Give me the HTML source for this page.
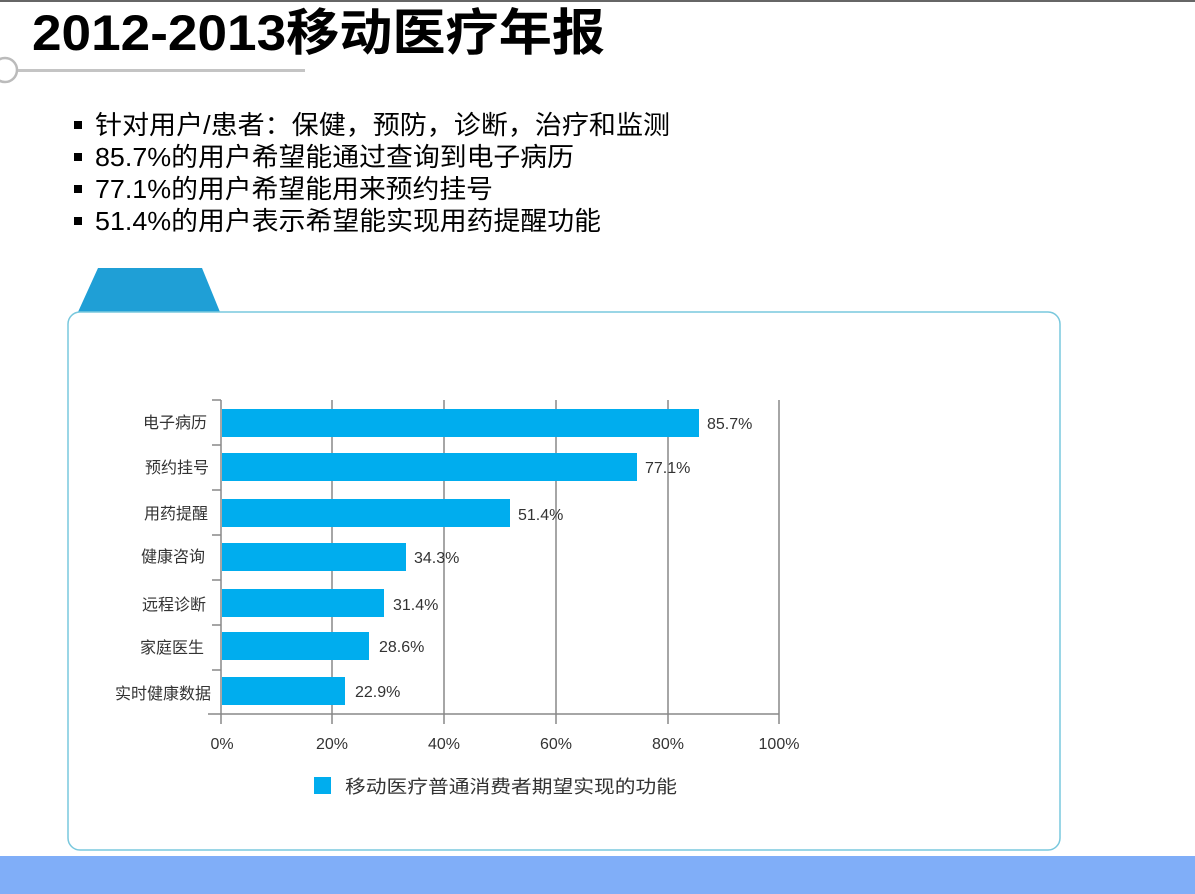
<!DOCTYPE html>
<html><head><meta charset="utf-8"><style>
html,body{margin:0;padding:0;background:#fff;width:1195px;height:894px;overflow:hidden}
svg{display:block}
text{font-family:"Liberation Sans","Noto Sans CJK SC",sans-serif}
</style></head><body>
<svg width="1195" height="894" viewBox="0 0 1195 894" xmlns="http://www.w3.org/2000/svg">
<rect x="0" y="0" width="1195" height="2" fill="#666"/>
<text x="32" y="50" font-size="50" font-weight="bold" fill="#000" textLength="573" lengthAdjust="spacingAndGlyphs">2012-2013移动医疗年报</text>
<circle cx="5" cy="70" r="12" fill="#fff" stroke="#bbb" stroke-width="2.5"/>
<rect x="18" y="69" width="287" height="3" fill="#c4c4c4"/>
<g font-size="26" fill="#000">
<rect x="74" y="121" width="8" height="8" fill="#000"/>
<text x="95" y="134" textLength="575" lengthAdjust="spacingAndGlyphs">针对用户/患者：保健，预防，诊断，治疗和监测</text>
<rect x="74" y="153" width="8" height="8" fill="#000"/>
<text x="95" y="166" textLength="479" lengthAdjust="spacingAndGlyphs">85.7%的用户希望能通过查询到电子病历</text>
<rect x="74" y="185" width="8" height="8" fill="#000"/>
<text x="95" y="198" textLength="398" lengthAdjust="spacingAndGlyphs">77.1%的用户希望能用来预约挂号</text>
<rect x="74" y="217" width="8" height="8" fill="#000"/>
<text x="95" y="230" textLength="506" lengthAdjust="spacingAndGlyphs">51.4%的用户表示希望能实现用药提醒功能</text>
</g>
<polygon points="98,268 202,268 220,312 78,312" fill="#1f9fd6"/>
<rect x="68" y="312" width="992" height="538" rx="12" fill="#fff" stroke="#79c8dd" stroke-width="1.5"/>
<g stroke="#888" stroke-width="1.5">
<line x1="332" y1="400" x2="332" y2="724"/>
<line x1="444" y1="400" x2="444" y2="724"/>
<line x1="556" y1="400" x2="556" y2="724"/>
<line x1="668" y1="400" x2="668" y2="724"/>
<line x1="779" y1="400" x2="779" y2="724"/>
<line x1="221" y1="400" x2="221" y2="724"/>
<line x1="208" y1="714" x2="779" y2="714"/>
<line x1="212" y1="400" x2="221" y2="400"/>
<line x1="212" y1="445" x2="221" y2="445"/>
<line x1="212" y1="490" x2="221" y2="490"/>
<line x1="212" y1="535" x2="221" y2="535"/>
<line x1="212" y1="580" x2="221" y2="580"/>
<line x1="212" y1="625" x2="221" y2="625"/>
<line x1="212" y1="670" x2="221" y2="670"/>
</g>
<g fill="#00adee">
<rect x="222" y="409" width="477" height="28"/>
<rect x="222" y="453" width="415" height="28"/>
<rect x="222" y="499" width="288" height="28"/>
<rect x="222" y="543" width="184" height="28"/>
<rect x="222" y="589" width="162" height="28"/>
<rect x="222" y="632" width="147" height="28"/>
<rect x="222" y="677" width="123" height="28"/>
</g>
<g font-size="16" fill="#333">
<text x="707" y="429">85.7%</text>
<text x="645" y="473">77.1%</text>
<text x="518" y="520">51.4%</text>
<text x="414" y="563">34.3%</text>
<text x="393" y="610">31.4%</text>
<text x="379" y="652">28.6%</text>
<text x="355" y="697">22.9%</text>
</g>
<g font-size="16" fill="#333" text-anchor="end">
<text x="207" y="428">电子病历</text>
<text x="209" y="473">预约挂号</text>
<text x="208" y="519">用药提醒</text>
<text x="205" y="562">健康咨询</text>
<text x="206" y="610">远程诊断</text>
<text x="204" y="653">家庭医生</text>
<text x="211" y="699">实时健康数据</text>
</g>
<g font-size="16" fill="#333" text-anchor="middle">
<text x="222" y="749">0%</text>
<text x="332" y="749">20%</text>
<text x="444" y="749">40%</text>
<text x="556" y="749">60%</text>
<text x="668" y="749">80%</text>
<text x="779" y="749">100%</text>
</g>
<rect x="314" y="777" width="17" height="17" fill="#00adee"/>
<text x="345" y="793" font-size="18" fill="#333" textLength="332" lengthAdjust="spacingAndGlyphs">移动医疗普通消费者期望实现的功能</text>
<rect x="0" y="856" width="1195" height="38" fill="#80aef8"/>
</svg>
</body></html>
